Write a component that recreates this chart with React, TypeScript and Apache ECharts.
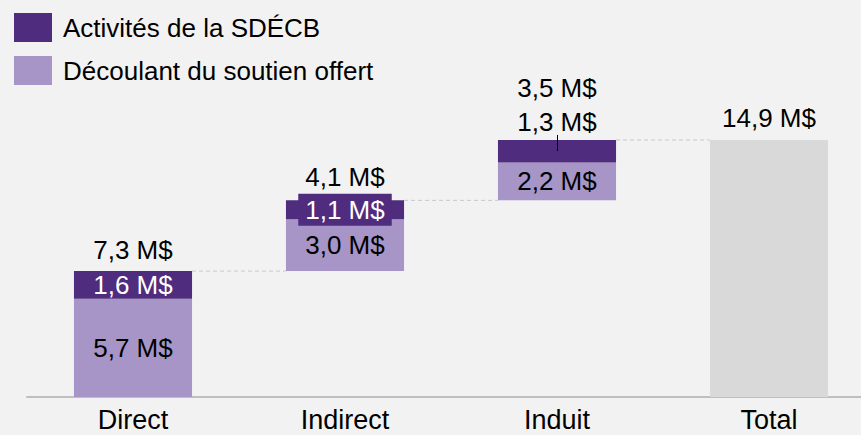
import React, { useEffect, useRef } from "react";
import * as echarts from "echarts";

const categories = ["Direct", "Indirect", "Induit", "Total"];
const soutienValues = [5.7, 3.0, 2.2]; // Découlant du soutien offert
const activitesValues = [1.6, 1.1, 1.3]; // Activités de la SDÉCB
const totalValue = 14.9;
const legendNames = ["Activités de la SDÉCB", "Découlant du soutien offert"];

const DARK = "#4f2c7e";
const LIGHT = "#a695c6";
const GREY = "#d9d9d9";
const FONT = "'Liberation Sans', Arial, sans-serif";

const fmt = (v: number) => v.toFixed(1).replace(".", ",") + " M$";

export default function App() {
  const ref = useRef<HTMLDivElement>(null);
  useEffect(() => {
    document.body.style.margin = "0";
    if (!ref.current) return;
    const chart = echarts.init(ref.current, undefined, { renderer: "svg" });

    const stepTotals = soutienValues.map((v, i) => +(v + activitesValues[i]).toFixed(1));
    const bases: number[] = [];
    let acc = 0;
    stepTotals.forEach((t) => {
      bases.push(+acc.toFixed(1));
      acc += t;
    });
    const tops = stepTotals.map((t, i) => +(bases[i] + t).toFixed(1));

    const baseData = [...bases, 0];
    const lightData = [...soutienValues, 0];
    const darkData: any[] = activitesValues.map((v, i) => {
      if (i === 1) {
        return {
          value: v,
          label: { backgroundColor: DARK, padding: [4, 7, 2, 7] },
        };
      }
      if (i === 2) {
        return {
          value: v,
          label: { position: "top", color: "#000", distance: 5 },
        };
      }
      return { value: v };
    });
    darkData.push({ value: 0 });
    const totalData = [0, 0, 0, totalValue];

    const totalLabelDist = [8, 10, 38, 8];
    const totalPoints = categories.map((c, i) => ({
      value: [i, i < 3 ? tops[i] : totalValue],
      label: {
        distance: totalLabelDist[i],
        formatter: fmt(i < 3 ? stepTotals[i] : totalValue),
      },
    }));

    const connectorData = tops.map((t, i) => [i, t]);
    const barRatio = 0.557;

    const labelBase = {
      show: true,
      fontFamily: FONT,
      fontSize: 26,
      formatter: (p: any) => (p.value ? fmt(p.value) : ""),
    };

    chart.setOption({
      animation: false,
      backgroundColor: "#f2f2f2",
      textStyle: { fontFamily: FONT },
      legend: {
        orient: "vertical",
        left: 9,
        top: 8,
        itemWidth: 38,
        itemHeight: 29,
        itemGap: 14,
        icon: "rect",
        data: legendNames,
        textStyle: { fontFamily: FONT, fontSize: 26, color: "#000", padding: [0, 0, 0, 6] },
        selectedMode: false,
      },
      grid: { left: 27, width: 848, top: 52, height: 345, outerBoundsMode: "none", containLabel: false },
      xAxis: {
        type: "category",
        data: categories,
        axisLine: { lineStyle: { color: "#bfbfbf", width: 2 } },
        axisTick: { show: false },
        axisLabel: { fontFamily: FONT, fontSize: 27, color: "#000", margin: 9 },
      },
      yAxis: { type: "value", min: 0, max: 20, show: false },
      series: [
        {
          name: "base",
          type: "bar",
          stack: "w",
          barWidth: barRatio * 100 + "%",
          data: baseData,
          itemStyle: { color: "rgba(0,0,0,0)" },
          silent: true,
          z: 3,
        },
        {
          name: legendNames[1],
          type: "bar",
          stack: "w",
          data: lightData,
          itemStyle: { color: LIGHT },
          label: { ...labelBase, position: "inside", color: "#000" },
          z: 3,
        },
        {
          name: legendNames[0],
          type: "bar",
          stack: "w",
          data: darkData,
          itemStyle: { color: DARK },
          label: { ...labelBase, position: "inside", color: "#fff" },
          z: 4,
        },
        {
          name: "Total",
          type: "bar",
          stack: "w",
          data: totalData,
          itemStyle: { color: GREY },
          z: 3,
        },
        {
          name: "connectors",
          type: "custom",
          silent: true,
          z: 2,
          data: connectorData,
          encode: { x: 0, y: 1 },
          renderItem: (params: any, api: any) => {
            const i = api.value(0);
            const v = api.value(1);
            const p = api.coord([i, v]);
            const band = api.size([1, 0])[0];
            const half = (band * barRatio) / 2;
            return {
              type: "line",
              shape: { x1: p[0] + half, y1: p[1], x2: p[0] + band - half, y2: p[1] },
              style: { stroke: "#c8c8c8", lineWidth: 1, lineDash: [4, 3] },
            };
          },
        },
        {
          name: "totals",
          type: "scatter",
          symbolSize: 1,
          silent: true,
          itemStyle: { color: "rgba(0,0,0,0)", opacity: 1 },
          data: totalPoints,
          label: {
            show: true,
            position: "top",
            fontFamily: FONT,
            fontSize: 26,
            color: "#000",
            opacity: 1,
          },
          markLine: {
            silent: true,
            symbol: ["none", "none"],
            label: { show: false },
            lineStyle: { color: "#000", type: "solid", width: 1, opacity: 1 },
            data: [
              [
                { coord: [categories[2], tops[2] + 0.29] },
                { coord: [categories[2], tops[2] - 0.64] },
              ],
            ],
          },
          z: 5,
        },
      ],
    });
    return () => chart.dispose();
  }, []);
  return <div ref={ref} style={{ width: 861, height: 435 }} />;
}
